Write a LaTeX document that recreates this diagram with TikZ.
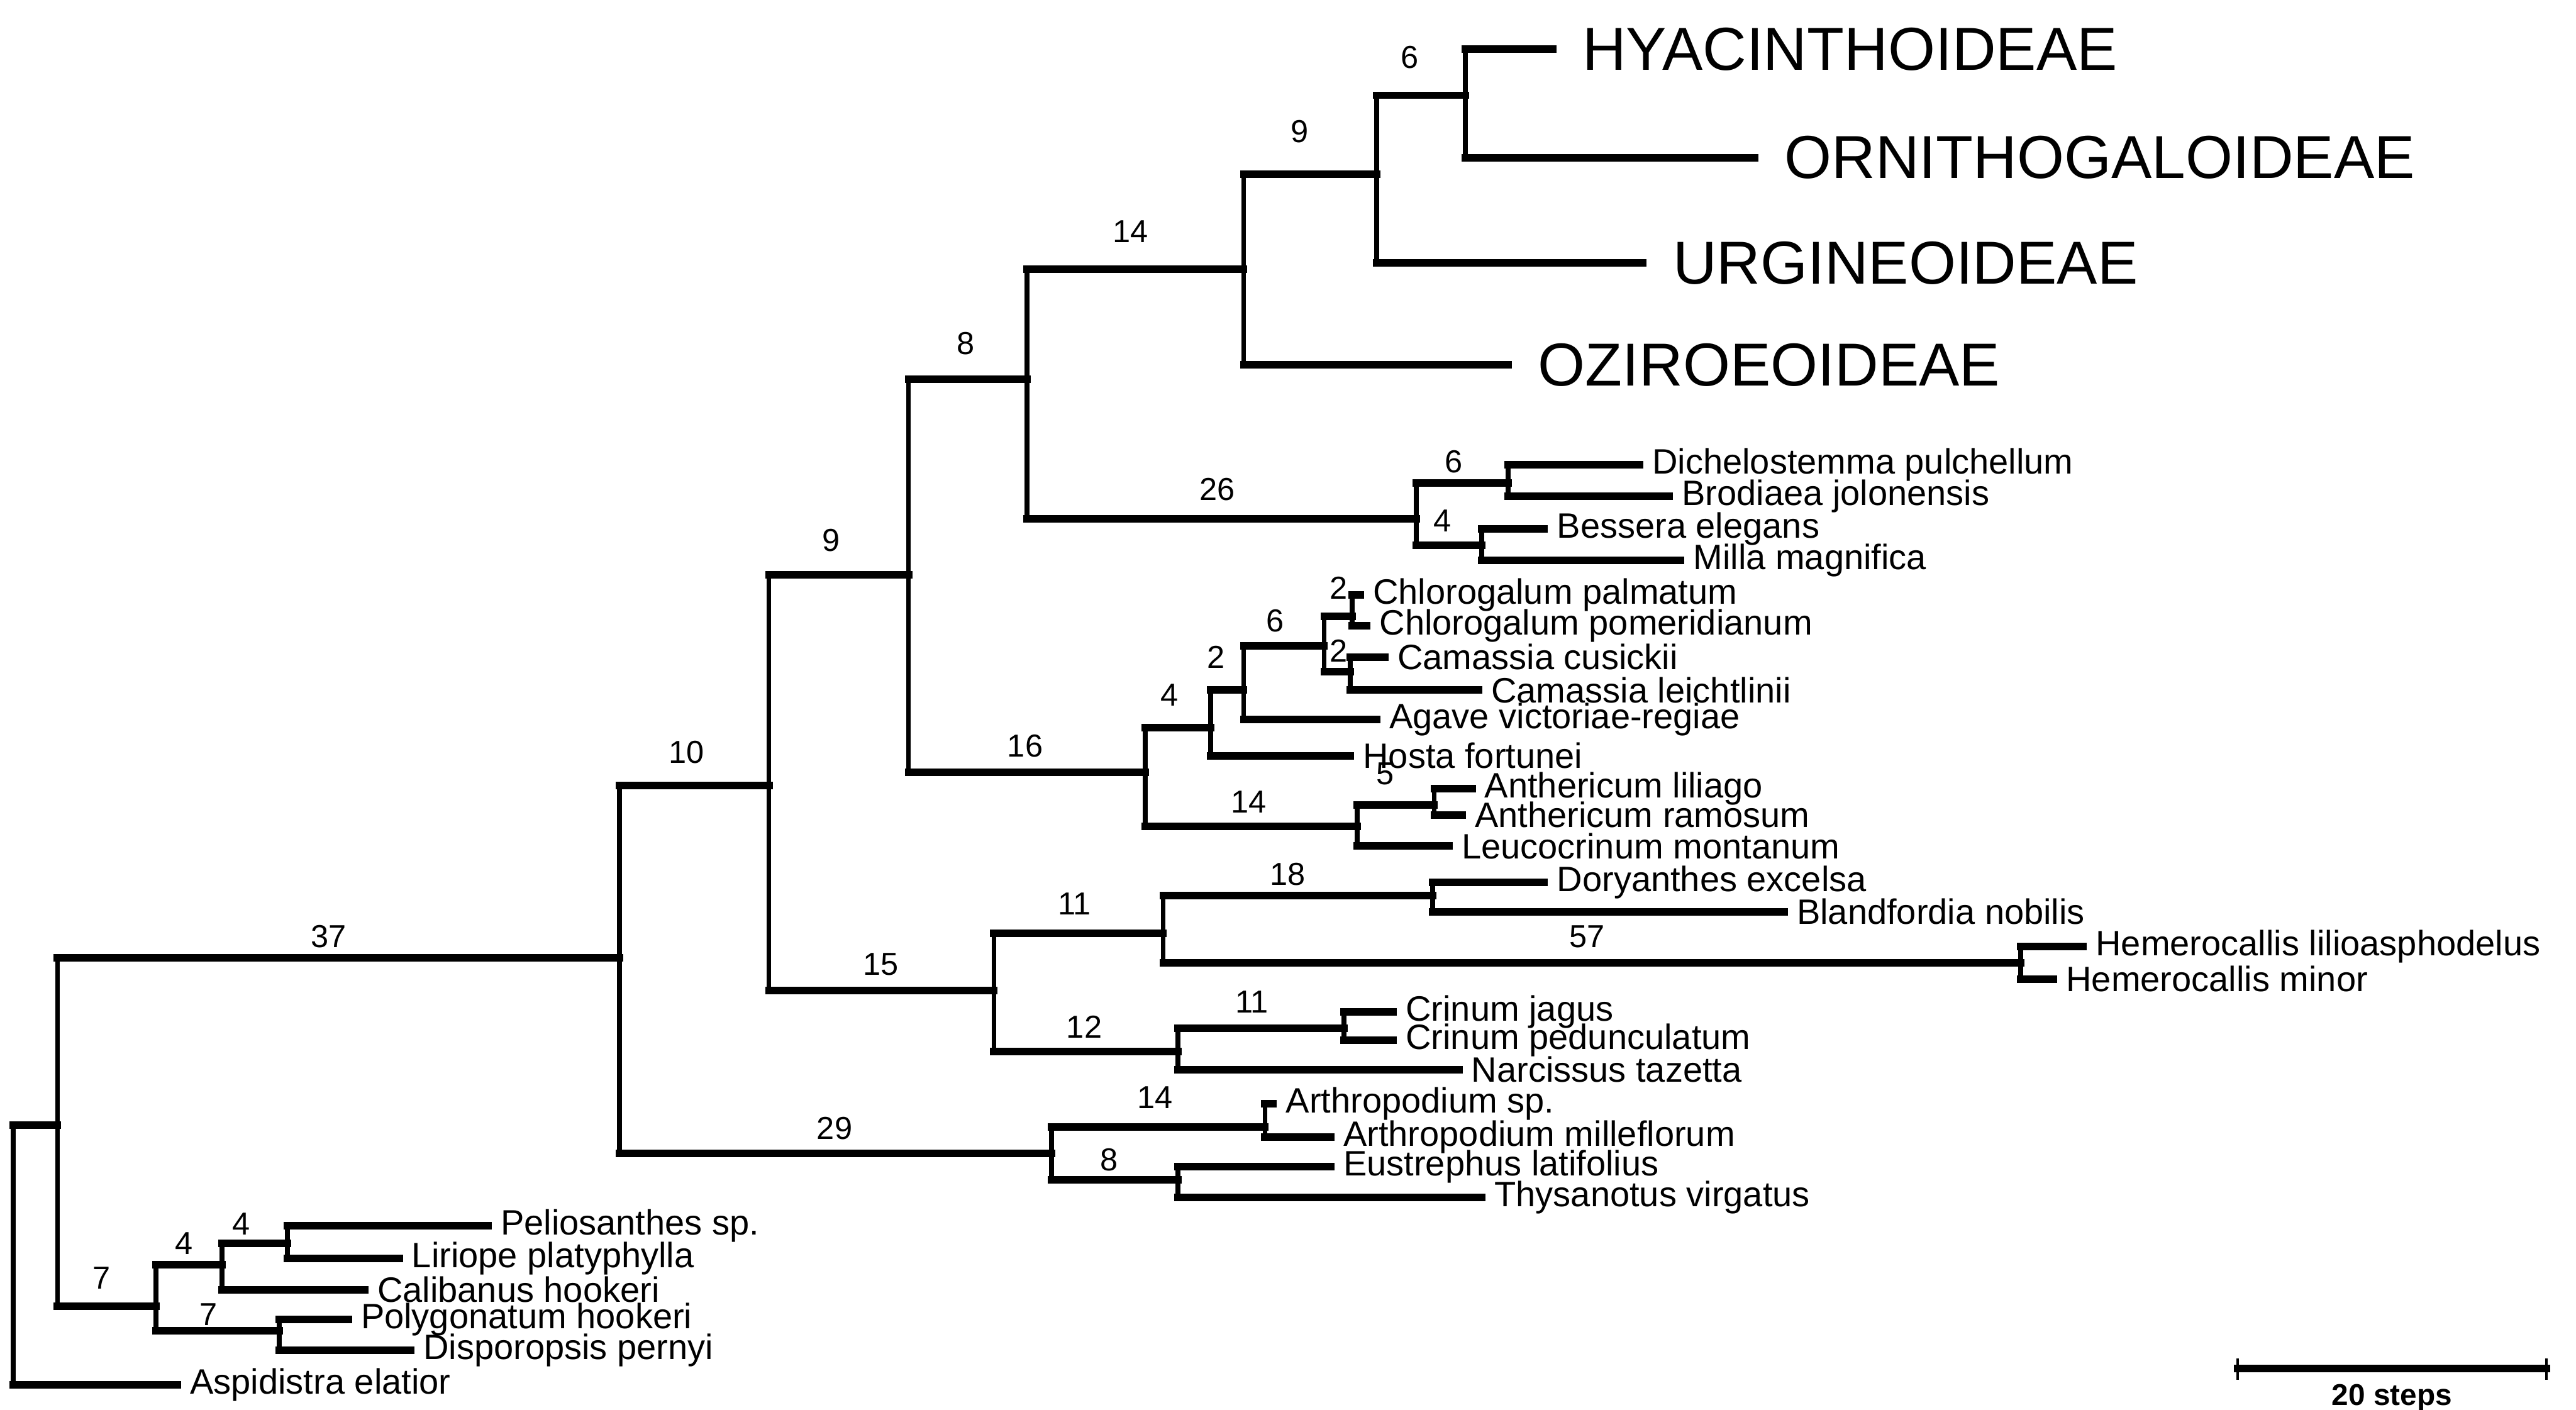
\documentclass[tikz,border=0pt]{standalone}
\usepackage{fontspec}
\setmainfont{Liberation Sans}
\tikzset{
  hbr/.style={line width=1.3pt, line cap=rect},
  vbr/.style={line width=0.85pt, line cap=rect},
  leaf/.style={anchor=west, inner xsep=2pt, inner ysep=0pt, font=\fontsize{6.1}{6.1}\selectfont},
  clade/.style={anchor=west, inner xsep=5pt, inner ysep=0pt, font=\fontsize{10.5}{10.5}\selectfont},
  blab/.style={inner sep=0pt, font=\fontsize{5.5}{5.5}\selectfont}
}
\begin{document}
\begin{tikzpicture}[x=0.01cm, y=-0.01cm]
\path[fill=white, use as bounding box] (0,0) rectangle (1568,858);
% internal nodes
\coordinate (root) at (8,764);
\coordinate (n1) at (35,685);
\coordinate (b7) at (95,795);
\coordinate (b4) at (135,770);
\coordinate (b4b) at (175,757);
\coordinate (b7b) at (170,810);
\coordinate (a37) at (377,583);
\coordinate (a10) at (468,478);
\coordinate (a29) at (640,702);
\coordinate (a9) at (553,350);
\coordinate (a15) at (605,603);
\coordinate (a8) at (625,231);
\coordinate (a16) at (697,470);
\coordinate (a14) at (757,164);
\coordinate (a26) at (862,316);
\coordinate (a9b) at (838,106);
\coordinate (a6) at (892,58);
\coordinate (a6b) at (918,294);
\coordinate (a4) at (902,332);
\coordinate (a4b) at (737,443);
\coordinate (a14b) at (826,503);
\coordinate (a2) at (757,420);
\coordinate (a6c) at (806,393);
\coordinate (a2b) at (823,375);
\coordinate (a2c) at (822,409);
\coordinate (a5) at (873,490);
\coordinate (a11) at (708,568);
\coordinate (a12) at (717,640);
\coordinate (a18) at (872,545);
\coordinate (a57) at (1230,586);
\coordinate (a11b) at (818,626);
\coordinate (a14c) at (770,686);
\coordinate (a8b) at (717,718);
% taxa
\node[leaf] (aspi) at (108,843) {Aspidistra elatior};
\node[leaf] (peli) at (297,746) {Peliosanthes sp.};
\node[leaf] (liri) at (243,766) {Liriope platyphylla};
\node[leaf] (cali) at (222,785) {Calibanus hookeri};
\node[leaf] (poly) at (212,803) {Polygonatum hookeri};
\node[leaf] (disp) at (250,822) {Disporopsis pernyi};
\node[clade] (hyac) at (945,30) {HYACINTHOIDEAE};
\node[clade] (orni) at (1068,96) {ORNITHOGALOIDEAE};
\node[clade] (urgi) at (1000,160) {URGINEOIDEAE};
\node[clade] (ozir) at (918,222) {OZIROEOIDEAE};
\node[leaf] (dich) at (998,283) {Dichelostemma pulchellum};
\node[leaf] (brod) at (1016,302) {Brodiaea jolonensis};
\node[leaf] (bess) at (940,322) {Bessera elegans};
\node[leaf] (mill) at (1023,341) {Milla magnifica};
\node[leaf] (chlpa) at (828,362) {Chlorogalum palmatum};
\node[leaf] (chlpo) at (832,381) {Chlorogalum pomeridianum};
\node[leaf] (camcu) at (843,400) {Camassia cusickii};
\node[leaf] (camle) at (900,420) {Camassia leichtlinii};
\node[leaf] (agave) at (838,438) {Agave victoriae-regiae};
\node[leaf] (hosta) at (822,460) {Hosta fortunei};
\node[leaf] (anli) at (896,480) {Anthericum liliago};
\node[leaf] (anra) at (890,496) {Anthericum ramosum};
\node[leaf] (leuc) at (882,515) {Leucocrinum montanum};
\node[leaf] (dory) at (940,537) {Doryanthes excelsa};
\node[leaf] (blan) at (1086,555) {Blandfordia nobilis};
\node[leaf] (heli) at (1268,576) {Hemerocallis lilioasphodelus};
\node[leaf] (hemi) at (1250,596) {Hemerocallis minor};
\node[leaf] (crja) at (848,616) {Crinum jagus};
\node[leaf] (crpe) at (848,633) {Crinum pedunculatum};
\node[leaf] (narc) at (888,651) {Narcissus tazetta};
\node[leaf] (arsp) at (775,672) {Arthropodium sp.};
\node[leaf] (armi) at (810,692) {Arthropodium milleflorum};
\node[leaf] (eust) at (810,710) {Eustrephus latifolius};
\node[leaf] (thys) at (902,729) {Thysanotus virgatus};
% branches
\foreach \p/\c in {root/n1, root/aspi, n1/a37, n1/b7, b7/b4, b7/b7b, b4/b4b, b4/cali,
    b4b/peli, b4b/liri, b7b/poly, b7b/disp, a37/a10, a37/a29, a10/a9, a10/a15,
    a9/a8, a9/a16, a8/a14, a8/a26, a14/a9b, a14/ozir, a9b/a6, a9b/urgi, a6/hyac, a6/orni,
    a26/a6b, a26/a4, a6b/dich, a6b/brod, a4/bess, a4/mill, a16/a4b, a16/a14b,
    a4b/a2, a4b/hosta, a2/a6c, a2/agave, a6c/a2b, a6c/a2c, a2b/chlpa, a2b/chlpo,
    a2c/camcu, a2c/camle, a14b/a5, a14b/leuc, a5/anli, a5/anra, a15/a11, a15/a12,
    a11/a18, a11/a57, a18/dory, a18/blan, a57/heli, a57/hemi, a12/a11b, a12/narc,
    a11b/crja, a11b/crpe, a29/a14c, a29/a8b, a14c/arsp, a14c/armi, a8b/eust, a8b/thys}
  \draw[hbr] (\c -| \p) -- (\c);
\foreach \p/\t/\b in {root/n1/aspi, n1/a37/b7, b7/b4/b7b, b4/b4b/cali, b4b/peli/liri,
    b7b/poly/disp, a37/a10/a29, a10/a9/a15, a9/a8/a16, a8/a14/a26, a14/a9b/ozir,
    a9b/a6/urgi, a6/hyac/orni, a26/a6b/a4, a6b/dich/brod, a4/bess/mill, a16/a4b/a14b,
    a4b/a2/hosta, a2/a6c/agave, a6c/a2b/a2c, a2b/chlpa/chlpo, a2c/camcu/camle,
    a14b/a5/leuc, a5/anli/anra, a15/a11/a12, a11/a18/a57, a18/dory/blan, a57/heli/hemi,
    a12/a11b/narc, a11b/crja/crpe, a29/a14c/a8b, a14c/arsp/armi, a8b/eust/thys}
  \draw[vbr] (\t -| \p) -- (\b -| \p);
% branch lengths
\node[blab] (ta37) at (200,570) {37};
\node[blab] (tb7) at (62,778) {7};
\node[blab] (tb4) at (112,757) {4};
\node[blab] (tb4b) at (147,745) {4};
\node[blab] (tb7b) at (127,800) {7};
\node[blab] (ta10) at (418,458) {10};
\node[blab] (ta29) at (508,687) {29};
\node[blab] (ta9) at (506,329) {9};
\node[blab] (ta15) at (536,587) {15};
\node[blab] (ta8) at (588,209) {8};
\node[blab] (ta16) at (624,454) {16};
\node[blab] (ta14) at (688,141) {14};
\node[blab] (ta26) at (741,298) {26};
\node[blab] (ta9b) at (791,80) {9};
\node[blab] (ta6) at (858,35) {6};
\node[blab] (ta6b) at (885,281) {6};
\node[blab] (ta4) at (878,317) {4};
\node[blab] (ta4b) at (712,423) {4};
\node[blab] (ta14b) at (760,488) {14};
\node[blab] (ta2) at (740,400) {2};
\node[blab] (ta6c) at (776,378) {6};
\node[blab] (ta2b) at (815,358) {2};
\node[blab] (ta2c) at (815,396) {2};
\node[blab] (ta5) at (843,471) {5};
\node[blab] (ta11) at (654,550) {11};
\node[blab] (ta12) at (660,625) {12};
\node[blab] (ta18) at (784,532) {18};
\node[blab] (ta57) at (966,570) {57};
\node[blab] (ta11b) at (762,610) {11};
\node[blab] (ta14c) at (703,668) {14};
\node[blab] (ta8b) at (675,706) {8};
% scale bar
\coordinate (sbl) at (1362,833);
\coordinate (sbr) at (1550,833);
\draw[hbr] (sbl) -- (sbr);
\draw[line width=0.4pt] (sbl) ++(0,-6) -- ++(0,13);
\draw[line width=0.4pt] (sbr) ++(0,-6) -- ++(0,13);
\node[blab, font=\fontsize{5.2}{5.2}\selectfont\bfseries] (steps) at (1456,851) {20 steps};
\end{tikzpicture}
\end{document}
